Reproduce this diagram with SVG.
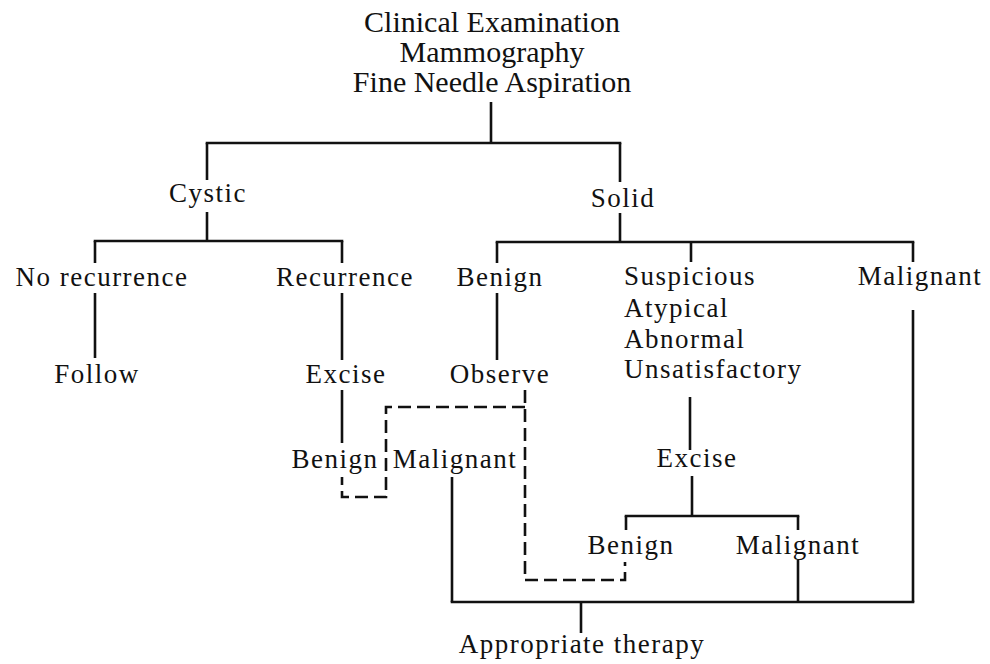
<svg xmlns="http://www.w3.org/2000/svg" width="990" height="664" viewBox="0 0 990 664">
<style>
text{font-family:"Liberation Serif","Times New Roman",serif;fill:#111;text-anchor:middle}
.t{font-size:30px}
.n{font-size:27px;letter-spacing:1.5px}
.l{text-anchor:start}
.c line,.c path{stroke:#111;stroke-width:2.6;fill:none}
.c .d{stroke-dasharray:13 6}
</style>
<rect width="990" height="664" fill="#fff"/>
<g id="connectors" class="c">
<line x1="491" y1="102" x2="491" y2="143"/>
<line x1="205.7" y1="143" x2="621.3" y2="143"/>
<line x1="207" y1="143" x2="207" y2="180"/>
<line x1="207" y1="212" x2="207" y2="241"/>
<line x1="620" y1="143" x2="620" y2="182"/>
<line x1="620" y1="213" x2="620" y2="242"/>
<line x1="93.7" y1="241" x2="343.3" y2="241"/>
<line x1="95" y1="241" x2="95" y2="263"/>
<line x1="95" y1="293" x2="95" y2="358"/>
<line x1="342" y1="241" x2="342" y2="263"/>
<line x1="342" y1="293" x2="342" y2="360"/>
<line x1="342" y1="390" x2="342" y2="443"/>
<line x1="495.7" y1="242" x2="914.3" y2="242"/>
<line x1="497" y1="242" x2="497" y2="263"/>
<line x1="497" y1="293" x2="497" y2="360"/>
<line x1="691" y1="242" x2="691" y2="262"/>
<line x1="913" y1="242" x2="913" y2="262"/>
<line x1="913" y1="310" x2="913" y2="602"/>
<line x1="690" y1="397" x2="690" y2="450"/>
<line x1="692" y1="476" x2="692" y2="516"/>
<line x1="624.7" y1="516" x2="799.3" y2="516"/>
<line x1="626" y1="516" x2="626" y2="530"/>
<line x1="798" y1="516" x2="798" y2="530"/>
<line x1="798" y1="560" x2="798" y2="602"/>
<line x1="452" y1="477" x2="452" y2="602"/>
<line x1="450.7" y1="602" x2="914.3" y2="602"/>
<line x1="581" y1="602" x2="581" y2="633"/>
<path class="d" d="M525,390 V580 H625 V562"/>
<path class="d" d="M525,407 H386 V497 H342 V477"/>
</g>
<g id="n-root"><text class="t" x="492" y="32">Clinical Examination</text><text class="t" x="492" y="62">Mammography</text><text class="t" x="492" y="92">Fine Needle Aspiration</text></g>
<g id="n-cystic"><text class="n" x="208" y="202">Cystic</text></g>
<g id="n-solid"><text class="n" x="623" y="207">Solid</text></g>
<g id="n-norec"><text class="n" x="102" y="286">No recurrence</text></g>
<g id="n-rec"><text class="n" x="345" y="286">Recurrence</text></g>
<g id="n-follow"><text class="n" x="97" y="383">Follow</text></g>
<g id="n-excise1"><text class="n" x="346" y="383">Excise</text></g>
<g id="n-benign1"><text class="n" x="335" y="468">Benign</text></g>
<g id="n-malig1"><text class="n" x="455" y="468">Malignant</text></g>
<g id="n-benign2"><text class="n" x="500" y="286">Benign</text></g>
<g id="n-observe"><text class="n" x="500" y="383">Observe</text></g>
<g id="n-susp"><text class="n l" x="624" y="285">Suspicious</text><text class="n l" x="624" y="317">Atypical</text><text class="n l" x="624" y="348">Abnormal</text><text class="n l" x="624" y="378">Unsatisfactory</text></g>
<g id="n-malig2"><text class="n" x="920" y="285">Malignant</text></g>
<g id="n-excise2"><text class="n" x="697" y="467">Excise</text></g>
<g id="n-benign3"><text class="n" x="631" y="554">Benign</text></g>
<g id="n-malig3"><text class="n" x="798" y="554">Malignant</text></g>
<g id="n-therapy"><text class="n" x="582" y="653">Appropriate therapy</text></g>
</svg>
